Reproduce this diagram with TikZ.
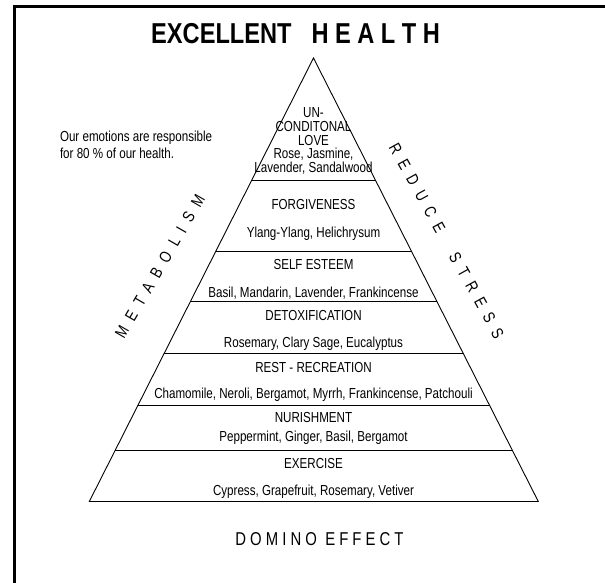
\documentclass[tikz,border=0pt]{standalone}
\usepackage{fontspec}
\setmainfont{Liberation Sans}[FakeStretch=0.8]
\newfontfamily\titlefont{Liberation Sans}[FakeStretch=0.82]
\newfontfamily\trackwide{Liberation Sans}[FakeStretch=0.8,LetterSpace=52]
\newfontfamily\trackmid{Liberation Sans}[FakeStretch=0.8,LetterSpace=22]
\usetikzlibrary{calc}
\begin{document}
\begin{tikzpicture}[x=1pt,y=-1pt,
  body/.style={font=\fontsize{14.5}{15}\selectfont, inner sep=0pt, anchor=base},
  sidetext/.style={font=\fontsize{16.5}{17}\selectfont\trackwide, inner sep=0pt},
  level/.style={line width=0.9pt},
  frameline/.style={line width=2.5pt, line join=miter}]
\useasboundingbox (0,0) rectangle (605,582);
\clip (0,0) rectangle (605,582);
\fill[white] (0,0) rectangle (605,582);
% frame
\draw[frameline] (14.5,600) -- (14.5,6.5) -- (620,6.5);
% pyramid
\coordinate (A) at (313.5,58);
\coordinate (BL) at (89.3,501.5);
\coordinate (BR) at (538.3,501.5);
\draw[level] (A) -- (BL) -- (BR) -- cycle;
\foreach \t in {0.2751,0.4352,0.5479,0.6663,0.7835,0.8839}
  \draw[level] ($(A)!\t!(BL)$) -- ($(A)!\t!(BR)$);
% title
\node[inner sep=0pt, anchor=base west] (title) at (151,43.3) {\fontsize{28.8}{30}\selectfont\titlefont\bfseries EXCELLENT\hspace{20pt}H\hspace{6.5pt}E\hspace{6.5pt}A\hspace{6.5pt}L\hspace{6.5pt}T\hspace{6.5pt}H};
% side note
\node[body, anchor=base west] (note1) at (59.8,141.5) {Our emotions are responsible};
\node[body, anchor=base west] (note2) at (59.8,158.8) {for 80 \% of our health.};
% levels text
\node[body] (ucl1) at (313.5,117.8) {UN-};
\node[body] (ucl2) at (313.5,131.8) {CONDITONAL};
\node[body] (ucl3) at (313.5,145.8) {LOVE};
\node[body] (ucl4) at (313.5,158.8) {Rose, Jasmine,};
\node[body] (ucl5) at (313.5,172.8) {Lavender, Sandalwood};
\node[body] (forg1) at (313.5,209.8) {FORGIVENESS};
\node[body] (forg2) at (313.5,237.8) {Ylang-Ylang, Helichrysum};
\node[body] (self1) at (313.5,269.8) {SELF ESTEEM};
\node[body] (self2) at (313.5,297.8) {Basil, Mandarin, Lavender, Frankincense};
\node[body] (detox1) at (313.5,320.8) {DETOXIFICATION};
\node[body] (detox2) at (313.5,347.8) {Rosemary, Clary Sage, Eucalyptus};
\node[body] (rest1) at (313.5,372.8) {REST - RECREATION};
\node[body] (rest2) at (313.5,398.8) {Chamomile, Neroli, Bergamot, Myrrh, Frankincense, Patchouli};
\node[body] (nur1) at (313.5,422.8) {NURISHMENT};
\node[body] (nur2) at (313.5,441.8) {Peppermint, Ginger, Basil, Bergamot};
\node[body] (ex1) at (313.5,468.8) {EXERCISE};
\node[body] (ex2) at (313.5,495.8) {Cypress, Grapefruit, Rosemary, Vetiver};
% bottom
\node[inner sep=0pt, anchor=base] (domino) at (319.5,545) {\fontsize{18.6}{20}\selectfont\trackmid DOMINO EFFECT};
% sides
\node[sidetext, rotate=60] (meta) at (160,266.5) {METABOLISM};
\node[sidetext, rotate=-61] (stress) at (446.5,241) {REDUCE\hspace{13pt} STRESS};
\end{tikzpicture}
\end{document}
